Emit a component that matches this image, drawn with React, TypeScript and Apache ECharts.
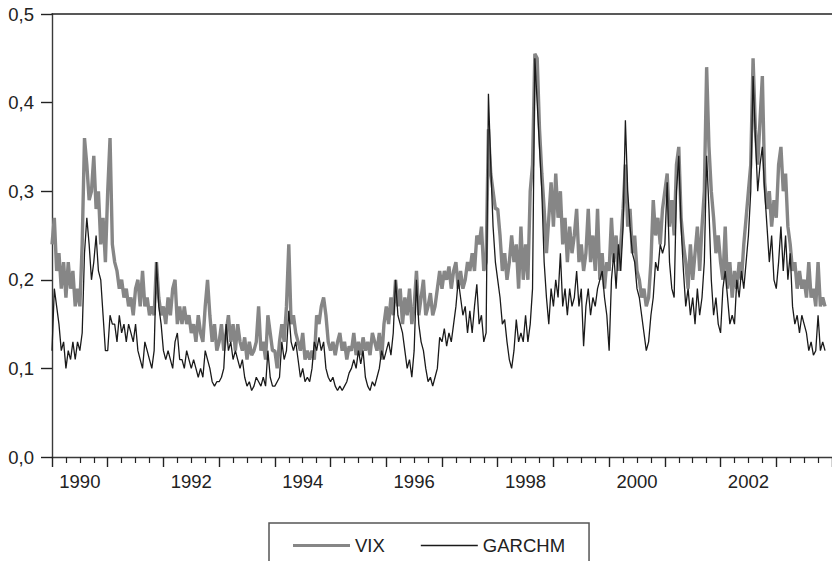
import React, { useEffect, useRef } from "react";
import * as echarts from "echarts";

// Half-monthly readings (24 per year), volatility as a fraction.
const years = [1990, 1991, 1992, 1993, 1994, 1995, 1996, 1997, 1998, 1999, 2000, 2001, 2002, 2003];

const vix1990 = [0.24, 0.27, 0.21, 0.23, 0.19, 0.22, 0.18, 0.22, 0.19, 0.21, 0.17, 0.19, 0.17, 0.24, 0.36, 0.33, 0.29, 0.30, 0.34, 0.28, 0.30, 0.24, 0.27, 0.22];
const vix1991 = [0.30, 0.36, 0.24, 0.22, 0.21, 0.19, 0.20, 0.18, 0.19, 0.17, 0.18, 0.16, 0.19, 0.20, 0.17, 0.21, 0.17, 0.18, 0.16, 0.17, 0.16, 0.22, 0.18, 0.16];
const vix1992 = [0.17, 0.15, 0.18, 0.16, 0.19, 0.20, 0.15, 0.17, 0.15, 0.17, 0.15, 0.16, 0.14, 0.15, 0.13, 0.16, 0.14, 0.13, 0.17, 0.20, 0.16, 0.13, 0.15, 0.12];
const vix1993 = [0.13, 0.15, 0.12, 0.14, 0.16, 0.13, 0.15, 0.12, 0.15, 0.13, 0.12, 0.135, 0.11, 0.13, 0.115, 0.12, 0.13, 0.17, 0.12, 0.13, 0.11, 0.16, 0.14, 0.12];
const vix1994 = [0.12, 0.10, 0.13, 0.15, 0.13, 0.17, 0.24, 0.15, 0.16, 0.14, 0.13, 0.12, 0.14, 0.11, 0.12, 0.11, 0.12, 0.11, 0.16, 0.15, 0.17, 0.18, 0.16, 0.13];
const vix1995 = [0.12, 0.13, 0.115, 0.13, 0.14, 0.12, 0.13, 0.11, 0.125, 0.12, 0.14, 0.115, 0.13, 0.115, 0.135, 0.12, 0.13, 0.115, 0.14, 0.13, 0.12, 0.14, 0.11, 0.15];
const vix1996 = [0.17, 0.15, 0.18, 0.16, 0.20, 0.17, 0.19, 0.15, 0.18, 0.16, 0.19, 0.15, 0.17, 0.21, 0.16, 0.18, 0.20, 0.16, 0.17, 0.185, 0.16, 0.17, 0.19, 0.21];
const vix1997 = [0.19, 0.21, 0.20, 0.215, 0.19, 0.21, 0.22, 0.19, 0.21, 0.19, 0.20, 0.22, 0.21, 0.23, 0.21, 0.25, 0.24, 0.26, 0.21, 0.22, 0.37, 0.32, 0.30, 0.28];
const vix1998 = [0.28, 0.25, 0.21, 0.23, 0.20, 0.22, 0.25, 0.22, 0.24, 0.19, 0.26, 0.20, 0.24, 0.20, 0.30, 0.33, 0.455, 0.45, 0.37, 0.32, 0.28, 0.23, 0.27, 0.31];
const vix1999 = [0.26, 0.32, 0.27, 0.30, 0.24, 0.27, 0.22, 0.26, 0.23, 0.25, 0.28, 0.22, 0.24, 0.21, 0.23, 0.28, 0.22, 0.25, 0.21, 0.28, 0.20, 0.23, 0.19, 0.22];
const vix2000 = [0.21, 0.27, 0.22, 0.25, 0.21, 0.24, 0.28, 0.33, 0.26, 0.28, 0.23, 0.25, 0.21, 0.20, 0.18, 0.19, 0.17, 0.18, 0.22, 0.29, 0.25, 0.27, 0.24, 0.28];
const vix2001 = [0.30, 0.32, 0.26, 0.29, 0.25, 0.33, 0.35, 0.27, 0.24, 0.22, 0.19, 0.24, 0.20, 0.23, 0.26, 0.21, 0.26, 0.30, 0.44, 0.35, 0.30, 0.27, 0.23, 0.25];
const vix2002 = [0.22, 0.20, 0.26, 0.19, 0.22, 0.18, 0.21, 0.19, 0.22, 0.20, 0.24, 0.27, 0.30, 0.33, 0.45, 0.37, 0.33, 0.38, 0.43, 0.31, 0.28, 0.30, 0.26, 0.29];
const vix2003 = [0.27, 0.33, 0.35, 0.30, 0.32, 0.26, 0.24, 0.21, 0.22, 0.19, 0.21, 0.19, 0.20, 0.18, 0.22, 0.18, 0.19, 0.17, 0.22, 0.17, 0.18, 0.17];

const garch1990 = [0.12, 0.19, 0.17, 0.15, 0.12, 0.13, 0.10, 0.12, 0.11, 0.13, 0.11, 0.13, 0.12, 0.14, 0.23, 0.27, 0.24, 0.20, 0.22, 0.25, 0.21, 0.20, 0.16, 0.12];
const garch1991 = [0.12, 0.16, 0.15, 0.15, 0.13, 0.16, 0.14, 0.15, 0.13, 0.15, 0.14, 0.13, 0.15, 0.12, 0.11, 0.10, 0.13, 0.12, 0.11, 0.10, 0.12, 0.22, 0.17, 0.15];
const garch1992 = [0.12, 0.11, 0.12, 0.11, 0.10, 0.13, 0.14, 0.11, 0.11, 0.10, 0.12, 0.11, 0.10, 0.11, 0.10, 0.09, 0.10, 0.09, 0.12, 0.11, 0.10, 0.085, 0.08, 0.085];
const garch1993 = [0.085, 0.09, 0.10, 0.15, 0.12, 0.13, 0.11, 0.12, 0.11, 0.10, 0.11, 0.09, 0.08, 0.085, 0.075, 0.08, 0.09, 0.085, 0.08, 0.09, 0.08, 0.12, 0.09, 0.08];
const garch1994 = [0.08, 0.085, 0.09, 0.13, 0.11, 0.12, 0.165, 0.13, 0.12, 0.13, 0.11, 0.09, 0.10, 0.085, 0.09, 0.085, 0.10, 0.13, 0.12, 0.135, 0.12, 0.13, 0.10, 0.09];
const garch1995 = [0.085, 0.09, 0.08, 0.075, 0.08, 0.075, 0.08, 0.085, 0.095, 0.10, 0.11, 0.10, 0.12, 0.105, 0.12, 0.09, 0.08, 0.075, 0.085, 0.08, 0.09, 0.10, 0.12, 0.11];
const garch1996 = [0.12, 0.13, 0.115, 0.14, 0.20, 0.16, 0.15, 0.14, 0.12, 0.10, 0.11, 0.09, 0.12, 0.20, 0.15, 0.13, 0.12, 0.10, 0.085, 0.09, 0.08, 0.09, 0.10, 0.135];
const garch1997 = [0.13, 0.145, 0.125, 0.14, 0.13, 0.15, 0.17, 0.20, 0.18, 0.16, 0.17, 0.14, 0.165, 0.14, 0.17, 0.195, 0.15, 0.16, 0.13, 0.14, 0.41, 0.33, 0.26, 0.22];
const garch1998 = [0.20, 0.18, 0.15, 0.155, 0.13, 0.11, 0.10, 0.12, 0.155, 0.13, 0.14, 0.13, 0.16, 0.13, 0.15, 0.19, 0.45, 0.40, 0.35, 0.30, 0.22, 0.18, 0.15, 0.19];
const garch1999 = [0.17, 0.20, 0.18, 0.23, 0.17, 0.19, 0.16, 0.19, 0.17, 0.18, 0.21, 0.17, 0.19, 0.125, 0.17, 0.19, 0.16, 0.18, 0.17, 0.19, 0.20, 0.21, 0.18, 0.16];
const garch2000 = [0.12, 0.20, 0.23, 0.19, 0.24, 0.21, 0.26, 0.38, 0.30, 0.26, 0.23, 0.22, 0.19, 0.18, 0.16, 0.14, 0.12, 0.13, 0.16, 0.18, 0.22, 0.21, 0.24, 0.23];
const garch2001 = [0.24, 0.31, 0.22, 0.19, 0.18, 0.30, 0.34, 0.26, 0.21, 0.17, 0.19, 0.16, 0.18, 0.15, 0.19, 0.16, 0.18, 0.22, 0.34, 0.28, 0.20, 0.16, 0.18, 0.15];
const garch2002 = [0.14, 0.19, 0.21, 0.18, 0.15, 0.16, 0.15, 0.20, 0.18, 0.21, 0.19, 0.22, 0.25, 0.30, 0.43, 0.36, 0.30, 0.33, 0.35, 0.30, 0.26, 0.22, 0.25, 0.20];
const garch2003 = [0.19, 0.22, 0.26, 0.21, 0.25, 0.20, 0.23, 0.17, 0.15, 0.16, 0.14, 0.16, 0.15, 0.14, 0.12, 0.13, 0.115, 0.12, 0.16, 0.12, 0.13, 0.12];

const vixByYear = [vix1990, vix1991, vix1992, vix1993, vix1994, vix1995, vix1996, vix1997, vix1998, vix1999, vix2000, vix2001, vix2002, vix2003];
const garchByYear = [garch1990, garch1991, garch1992, garch1993, garch1994, garch1995, garch1996, garch1997, garch1998, garch1999, garch2000, garch2001, garch2002, garch2003];

const yTicks = [0, 0.1, 0.2, 0.3, 0.4, 0.5];
const labelledYears = [1990, 1992, 1994, 1996, 1998, 2000, 2002];

const PERIODS_PER_YEAR = 24;

function toPoints(rows: number[][]): [number, number][] {
  const out: [number, number][] = [];
  rows.forEach((row, k) => {
    row.forEach((v, i) => out.push([years[k] + i / PERIODS_PER_YEAR, v]));
  });
  return out;
}

const VIX_COLOR = "#868686";
const GARCH_COLOR = "#1a1a1a";
const AXIS_COLOR = "#3a3a3a";
const FONT = "'Liberation Sans', Arial, Helvetica, sans-serif";

export default function App() {
  const ref = useRef<HTMLDivElement>(null);

  useEffect(() => {
    if (!ref.current) return;
    const chart = echarts.init(ref.current, undefined, { renderer: "svg" });
    chart.setOption({
      animation: false,
      backgroundColor: "#ffffff",
      textStyle: { fontFamily: FONT },
      grid: { left: 52, right: -6, top: 14, bottom: 104, containLabel: false },
      legend: {
        left: 269,
        top: 523,
        orient: "horizontal",
        itemWidth: 57,
        itemHeight: 14,
        itemGap: 36,
        symbolKeepAspect: true,
        padding: [13, 24, 30, 24],
        borderColor: "#555555",
        borderWidth: 1.5,
        borderRadius: 0,
        textStyle: { fontSize: 18.5, color: "#222222", fontFamily: FONT },
        data: [
          { name: "VIX", icon: "path://M0,0H57V3.2H0Z", itemStyle: { color: VIX_COLOR } },
          { name: "GARCHM", icon: "path://M0,0H57V1.3H0Z", itemStyle: { color: GARCH_COLOR } },
        ],
      },
      xAxis: [
        {
          type: "value",
          min: 1990,
          max: 2004,
          interval: 1,
          position: "bottom",
          axisLine: { show: true, onZero: false, lineStyle: { color: AXIS_COLOR, width: 1.4 } },
          axisTick: { show: true, length: 10, inside: false, lineStyle: { color: "#222222", width: 1.4 } },
          minorTick: { show: true, splitNumber: 4, length: 6, lineStyle: { color: "#222222", width: 1.2 } },
          splitLine: { show: false },
          minorSplitLine: { show: false },
          axisLabel: {
            show: true,
            margin: 15,
            fontSize: 18.5,
            color: "#222222",
            fontFamily: FONT,
            customValues: labelledYears.map((y) => y + 0.5),
            formatter: (v: number) => String(Math.floor(v)),
          },
        },
        {
          type: "value",
          min: 1990,
          max: 2004,
          position: "top",
          axisLine: { show: true, onZero: false, lineStyle: { color: "#222222", width: 1.5 } },
          axisTick: { show: false },
          axisLabel: { show: false },
          splitLine: { show: false },
        },
      ],
      yAxis: {
        type: "value",
        min: 0,
        max: 0.5,
        interval: 0.1,
        axisLine: { show: true, lineStyle: { color: AXIS_COLOR, width: 1.4 } },
        axisTick: { show: true, length: 11, inside: false, lineStyle: { color: "#222222", width: 1.4 } },
        splitLine: { show: false },
        axisLabel: {
          margin: 18,
          fontSize: 18.5,
          color: "#222222",
          fontFamily: FONT,
          customValues: yTicks,
          formatter: (v: number) => v.toFixed(1).replace(".", ","),
        },
      },
      series: [
        {
          name: "VIX",
          type: "line",
          xAxisIndex: 0,
          data: toPoints(vixByYear),
          symbol: "none",
          lineStyle: { color: VIX_COLOR, width: 3.4 },
          itemStyle: { color: VIX_COLOR },
          z: 2,
        },
        {
          name: "GARCHM",
          type: "line",
          xAxisIndex: 0,
          data: toPoints(garchByYear),
          symbol: "none",
          lineStyle: { color: GARCH_COLOR, width: 1.3 },
          itemStyle: { color: GARCH_COLOR },
          z: 3,
        },
      ],
    });
    return () => chart.dispose();
  }, []);

  return (
    <div
      ref={ref}
      style={{ position: "absolute", left: 0, top: 0, width: 832, height: 561, background: "#fff" }}
    />
  );
}
